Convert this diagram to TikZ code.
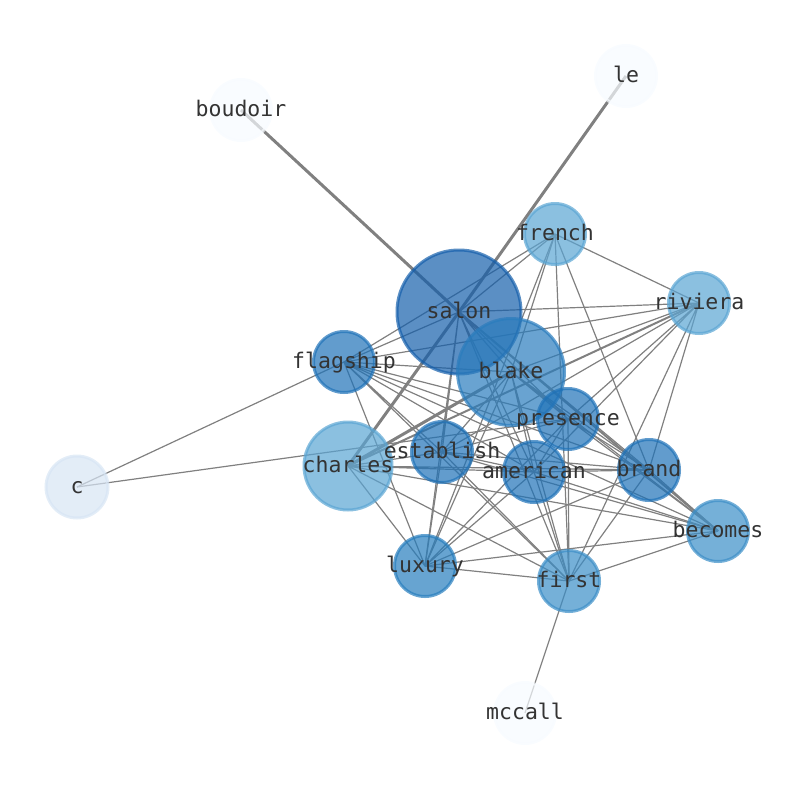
\documentclass[tikz,border=0pt]{standalone}
\usepackage{fontspec}
\setmonofont{DejaVu Sans Mono}
\usetikzlibrary{backgrounds}

\definecolor{salonblue}{RGB}{21,95,171}
\definecolor{blakeblue}{RGB}{42,124,189}
\definecolor{paleblue}{RGB}{90,165,211}
\definecolor{midblue}{RGB}{31,114,184}
\definecolor{softblue}{RGB}{59,142,199}
\definecolor{luxblue}{RGB}{38,125,189}
\definecolor{cblue}{RGB}{215,229,244}
\definecolor{ghostblue}{RGB}{247,251,255}
\definecolor{edgegray}{RGB}{128,128,128}

\begin{document}
\begin{tikzpicture}
	  [
	    x                       = 1pt,
	    y                       = -1pt,
	    word/.style             = {
			circle,
			draw=#1,
			fill=#1,
			draw opacity=0.7,
			fill opacity=0.7,
			line width=3pt,
			inner sep=0pt,
			minimum size=61pt
		},
		tag/.style				= {
			font=\fontsize{21.5}{24}\selectfont\ttfamily,
			text=black!80,
			inner sep=0pt,
			text height=13pt,
			text depth=0pt
		},
		link/.style				= {draw=edgegray, line width=1.2pt},
		heavy/.style			= {draw=edgegray, line width=3pt},
		medium/.style			= {draw=edgegray, line width=2pt}
		]
		\useasboundingbox (0,0) rectangle (794,790);
		% words
		\node[word=salonblue, minimum size=124pt] (salon) at (459,312) {};
		\node[word=blakeblue, minimum size=107pt] (blake) at (511,372) {};
		\node[word=paleblue, minimum size=88pt] (charles) at (348,466) {};
		\node[word=paleblue] (french) at (555,234) {};
		\node[word=paleblue] (riviera) at (699,303) {};
		\node[word=midblue] (flagship) at (344,362) {};
		\node[word=midblue] (presence) at (568,419) {};
		\node[word=midblue] (establish) at (442,452) {};
		\node[word=midblue] (american) at (534,472) {};
		\node[word=midblue] (brand) at (649,470) {};
		\node[word=softblue] (becomes) at (718,531) {};
		\node[word=luxblue] (luxury) at (425,566) {};
		\node[word=softblue] (first) at (569,581) {};
		\node[word=cblue, minimum size=62pt] (c) at (77,487) {};
		\node[word=ghostblue] (boudoir) at (241,110) {};
		\node[word=ghostblue] (le) at (626,76) {};
		\node[word=ghostblue] (mccall) at (525,713) {};
		% labels
		\node[tag] (tsalon) at (salon) {salon};
		\node[tag] (tblake) at (blake) {blake};
		\node[tag] (tcharles) at (charles) {charles};
		\node[tag] (tfrench) at (french) {french};
		\node[tag] (triviera) at (riviera) {riviera};
		\node[tag] (tflagship) at (flagship) {flagship};
		\node[tag] (tpresence) at (presence) {presence};
		\node[tag] (testablish) at (establish) {establish};
		\node[tag] (tamerican) at (american) {american};
		\node[tag] (tbrand) at (brand) {brand};
		\node[tag] (tbecomes) at (becomes) {becomes};
		\node[tag] (tluxury) at (luxury) {luxury};
		\node[tag] (tfirst) at (first) {first};
		\node[tag] (tc) at (c) {c};
		\node[tag] (tboudoir) at (boudoir) {boudoir};
		\node[tag] (tle) at (le) {le};
		\node[tag] (tmccall) at (mccall) {mccall};
		% co-occurrence links
		\begin{scope}[on background layer]
		\draw[heavy] (boudoir.center) -- (salon.center);
		\draw[heavy] (le.center) -- (salon.center);
		\draw[heavy] (salon.center) -- (charles.center);
		\draw[heavy] (blake.center) -- (charles.center);
		\draw[medium] (riviera.center) -- (charles.center);
		\draw[medium] (salon.center) -- (becomes.center);
		\draw[link] (salon.center) -- (flagship.center)
			(salon.center) -- (french.center)
			(salon.center) -- (riviera.center)
			(salon.center) -- (blake.center)
			(salon.center) -- (presence.center)
			(salon.center) -- (establish.center)
			(salon.center) -- (american.center)
			(salon.center) -- (brand.center)
			(salon.center) -- (luxury.center)
			(salon.center) -- (first.center);
		\draw[link] (blake.center) -- (flagship.center)
			(blake.center) -- (french.center)
			(blake.center) -- (riviera.center)
			(blake.center) -- (presence.center)
			(blake.center) -- (establish.center)
			(blake.center) -- (american.center)
			(blake.center) -- (brand.center)
			(blake.center) -- (becomes.center)
			(blake.center) -- (luxury.center)
			(blake.center) -- (first.center);
		\draw[link] (french.center) -- (flagship.center)
			(french.center) -- (riviera.center)
			(french.center) -- (brand.center)
			(french.center) -- (first.center)
			(french.center) -- (luxury.center);
		\draw[link] (riviera.center) -- (flagship.center)
			(riviera.center) -- (presence.center)
			(riviera.center) -- (establish.center)
			(riviera.center) -- (american.center)
			(riviera.center) -- (brand.center)
			(riviera.center) -- (first.center);
		\draw[link] (flagship.center) -- (c.center)
			(flagship.center) -- (presence.center)
			(flagship.center) -- (establish.center)
			(flagship.center) -- (american.center)
			(flagship.center) -- (brand.center)
			(flagship.center) -- (becomes.center)
			(flagship.center) -- (luxury.center)
			(flagship.center) -- (first.center);
		\draw[link] (c.center) -- (presence.center);
		\draw[link] (charles.center) -- (establish.center)
			(charles.center) -- (american.center)
			(charles.center) -- (brand.center)
			(charles.center) -- (becomes.center)
			(charles.center) -- (luxury.center)
			(charles.center) -- (first.center);
		\draw[link] (presence.center) -- (establish.center)
			(presence.center) -- (american.center)
			(presence.center) -- (brand.center)
			(presence.center) -- (becomes.center)
			(presence.center) -- (luxury.center)
			(presence.center) -- (first.center);
		\draw[link] (establish.center) -- (american.center)
			(establish.center) -- (brand.center)
			(establish.center) -- (becomes.center)
			(establish.center) -- (luxury.center)
			(establish.center) -- (first.center);
		\draw[link] (american.center) -- (brand.center)
			(american.center) -- (becomes.center)
			(american.center) -- (luxury.center)
			(american.center) -- (first.center);
		\draw[link] (brand.center) -- (becomes.center)
			(brand.center) -- (luxury.center)
			(brand.center) -- (first.center);
		\draw[link] (becomes.center) -- (luxury.center)
			(becomes.center) -- (first.center);
		\draw[link] (luxury.center) -- (first.center);
		\draw[link] (first.center) -- (mccall.center);
		\end{scope}
	\end{tikzpicture}
\end{document}
